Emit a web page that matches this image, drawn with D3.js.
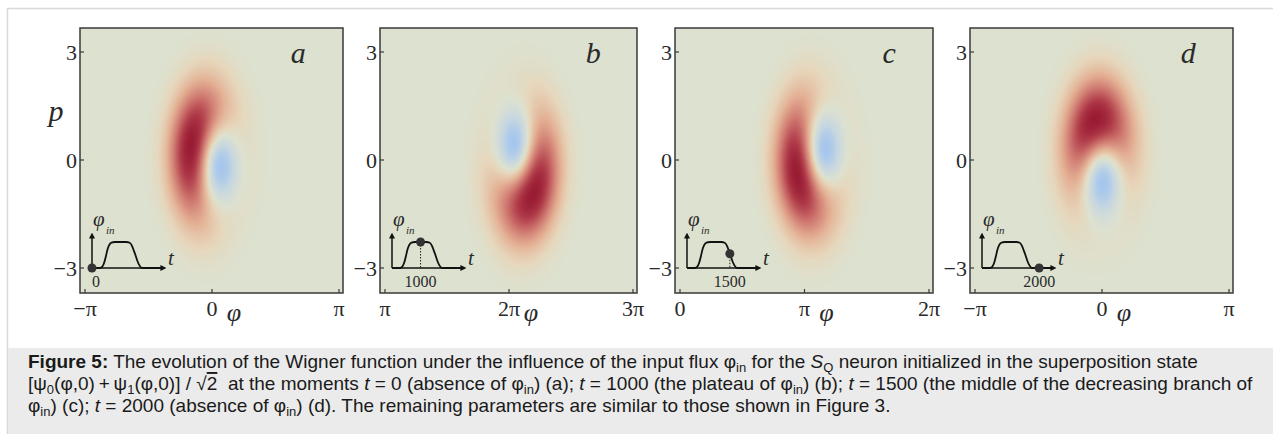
<!DOCTYPE html>
<html>
<head>
<meta charset="utf-8">
<script src="https://cdnjs.cloudflare.com/ajax/libs/d3/7.8.5/d3.min.js"></script>
<style>
body{margin:0;background:#fff}
svg text{font-family:"Liberation Serif","Times New Roman",serif;fill:#2a2a2a}
svg text.cap{font-family:"Liberation Sans",Arial,Helvetica,sans-serif;font-size:19px;fill:#1a1a1a;white-space:pre}
</style>
</head>
<body>
<svg width="1273" height="434"></svg>
<script>
var PI = Math.PI

var panelLetters = ["a","b","c","d"]
var xTickValues = [[-PI,0,PI],[PI,2*PI,3*PI],[0,PI,2*PI],[-PI,0,PI]]
var xTickLabels = [["−π","0","π"],["π","2π","3π"],["0","π","2π"],["−π","0","π"]]
var pTickValues = [3,0,-3]
var pTickLabels = ["3","0","−3"]

// centre of each Wigner blob (phi, p) and direction of its red lobe (deg)
var blobPhi = [-0.05, 2*PI+0.3, PI+0.27, -0.05]
var blobP = [0.03, -0.05, 0.05, 0.0]
var redLobeAngle = [160, -52, 204, 104]
var blobWidthPhi = 0.62
var blobWidthP = 1.4

// inset: the input flux pulse phi_in(t)
var pulseT = [0, 250, 350, 420, 480, 540, 600, 680, 800, 1200, 1320, 1400, 1460, 1520, 1580, 1650, 1750, 2450]
var pulseV = [0, 0, 0.04, 0.18, 0.42, 0.7, 0.88, 0.98, 1, 1, 0.97, 0.85, 0.68, 0.5, 0.3, 0.12, 0, 0]
var insetTimes = [0, 1000, 1500, 2000]
var insetTimeLabels = ["0", "1000", "1500", "2000"]
var insetDotV = [0, 1, 0.55, 0]

var colorStops = [-0.4, -0.2, 0, 0.1, 0.3, 0.55, 0.8, 1]
var colorValues = ["#a2c4ee", "#c4d6e2", "#dde1d0", "#e6d7bc", "#e4b195", "#cf7870", "#b03c4a", "#981a33"]

var frames = [{left:80,width:263},{left:380,width:257},{left:675,width:258},{left:970,width:263}]
var frameTop = 28, frameBottom = 293

var svg = d3.select("svg")
var color = d3.scaleLinear().domain(colorStops).range(colorValues).clamp(true)

var wigner = function(k, phi, p)
{
    var x = (phi - blobPhi[k]) / blobWidthPhi
    var y = (p - blobP[k]) / blobWidthP
    var a = redLobeAngle[k] * PI / 180
    var r2 = x*x + y*y
    return Math.exp(-r2) * (r2 + Math.SQRT2 * (x*Math.cos(a) + y*Math.sin(a))) / 0.9353
}

// figure border and caption box
svg.append("line").attr("x1",7).attr("x2",1273).attr("y1",8.5).attr("y2",8.5)
   .attr("stroke","#d9d9d9").attr("stroke-width",1.5)
svg.append("line").attr("x1",7.5).attr("x2",7.5).attr("y1",8).attr("y2",434)
   .attr("stroke","#d9d9d9").attr("stroke-width",1.5)
svg.append("rect").attr("x",8).attr("y",348).attr("width",1265).attr("height",86).attr("fill","#ebebeb")

var defs = svg.append("defs")
defs.append("marker").attr("id","arrow").attr("viewBox","0 0 10 10")
    .attr("refX",1).attr("refY",5).attr("markerWidth",6).attr("markerHeight",6)
    .attr("orient","auto").attr("markerUnits","userSpaceOnUse")
    .append("path").attr("d","M0,0 L10,5 L0,10 z").attr("fill","#111")

var drawPanel = function(k)
{
    var f = frames[k]
    var right = f.left + f.width
    var xScale = d3.scaleLinear().domain([xTickValues[k][0], xTickValues[k][2]])
                   .range([f.left + 5, right - 4])
    var yScale = d3.scaleLinear().domain([3, -3]).range([52, 268])

    var g = svg.append("g").attr("class","panel")

    defs.append("clipPath").attr("id","clip"+k)
        .append("rect").attr("x",f.left).attr("y",frameTop)
        .attr("width",f.width).attr("height",frameBottom-frameTop)

    // Wigner function as filled contour bands
    var step = 2
    var nx = Math.ceil(f.width/step) + 2
    var ny = Math.ceil((frameBottom-frameTop)/step) + 2
    var values = new Array(nx*ny)
    for (var j = 0; j < ny; j++)
        for (var i = 0; i < nx; i++)
            values[j*nx+i] = wigner(k, xScale.invert(f.left + i*step), yScale.invert(frameTop + j*step))
    var thresholds = d3.range(-0.42, 1.0, 0.012)
    var bands = d3.contours().size([nx,ny]).thresholds(thresholds)(values)
    var gx = d3.scaleLinear().domain([0.5, nx-0.5]).range([f.left, f.left + (nx-1)*step])
    var gy = d3.scaleLinear().domain([0.5, ny-0.5]).range([frameTop, frameTop + (ny-1)*step])
    var path = d3.geoPath(d3.geoTransform({point:function(x,y){this.stream.point(gx(x), gy(y))}}))

    var heat = g.append("g").attr("clip-path","url(#clip"+k+")")
    heat.append("rect").attr("x",f.left).attr("y",frameTop)
        .attr("width",f.width).attr("height",frameBottom-frameTop)
        .attr("fill",color(thresholds[0]))
    heat.selectAll("path").data(bands).enter().append("path")
        .attr("d",path).attr("fill",function(d){return color(d.value)})

    // frame and ticks
    g.append("rect").attr("x",f.left).attr("y",frameTop)
     .attr("width",f.width).attr("height",frameBottom-frameTop)
     .attr("fill","none").attr("stroke","#3a3a3a").attr("stroke-width",1.5)
    g.selectAll(".xt").data(xTickValues[k]).enter().append("line")
     .attr("x1",function(d){return xScale(d)}).attr("x2",function(d){return xScale(d)})
     .attr("y1",frameBottom).attr("y2",frameBottom-4).attr("stroke","#3a3a3a").attr("stroke-width",1.2)
    g.selectAll(".yt").data(pTickValues).enter().append("line")
     .attr("x1",f.left).attr("x2",f.left+4)
     .attr("y1",function(d){return yScale(d)}).attr("y2",function(d){return yScale(d)})
     .attr("stroke","#3a3a3a").attr("stroke-width",1.2)

    g.selectAll(".xl").data(xTickValues[k]).enter().append("text")
     .attr("x",function(d){return xScale(d)}).attr("y",316)
     .attr("text-anchor","middle").attr("font-size",22)
     .text(function(d,i){return xTickLabels[k][i]})
    g.selectAll(".yl").data(pTickValues).enter().append("text")
     .attr("x",f.left-3).attr("y",function(d){return yScale(d)+8})
     .attr("text-anchor","end").attr("font-size",22)
     .text(function(d,i){return pTickLabels[i]})

    g.append("text").attr("x",xScale(xTickValues[k][1])+22).attr("y",321)
     .attr("text-anchor","middle").attr("font-size",26).attr("font-style","italic").text("φ")
    if (k === 0)
        g.append("text").attr("x",56).attr("y",121).attr("text-anchor","middle")
         .attr("font-size",30).attr("font-style","italic").text("p")

    g.append("text").attr("x",f.left + 0.83*f.width).attr("y",63)
     .attr("text-anchor","middle").attr("font-size",30).attr("font-style","italic")
     .text(panelLetters[k])

    // inset with the input flux pulse
    var x0 = f.left + 12
    var baseY = yScale(-3)
    var tScale = d3.scaleLinear().domain([0, 2450]).range([x0, x0+70])
    var vScale = d3.scaleLinear().domain([0, 1]).range([baseY, baseY-26])
    var inset = g.append("g")
    inset.append("line").attr("x1",x0).attr("y1",baseY).attr("x2",x0).attr("y2",baseY-30)
         .attr("stroke","#111").attr("stroke-width",1.5).attr("marker-end","url(#arrow)")
    inset.append("line").attr("x1",x0).attr("y1",baseY).attr("x2",tScale(2450)-1).attr("y2",baseY)
         .attr("stroke","#111").attr("stroke-width",1.5).attr("marker-end","url(#arrow)")
    var pulseLine = d3.line()
        .x(function(d,i){return tScale(pulseT[i])})
        .y(function(d){return vScale(d)})
        .curve(d3.curveMonotoneX)
    inset.append("path").attr("d",pulseLine(pulseV)).attr("fill","none")
         .attr("stroke","#111").attr("stroke-width",1.8)
    if (insetDotV[k] > 0.05)
        inset.append("line").attr("x1",tScale(insetTimes[k])).attr("x2",tScale(insetTimes[k]))
             .attr("y1",vScale(insetDotV[k])).attr("y2",baseY)
             .attr("stroke","#222").attr("stroke-width",1).attr("stroke-dasharray","1.5,1.5")
    inset.append("circle").attr("cx",tScale(insetTimes[k])).attr("cy",vScale(insetDotV[k]))
         .attr("r",4.5).attr("fill","#333")
    inset.append("text").attr("x",x0+1).attr("y",baseY-42).attr("font-size",21)
         .attr("font-style","italic").text("φ")
    inset.append("text").attr("x",x0+14).attr("y",baseY-34).attr("font-size",11)
         .attr("font-style","italic").text("in")
    inset.append("text").attr("x",x0+76).attr("y",baseY-3).attr("font-size",21)
         .attr("font-style","italic").text("t")
    inset.append("text").attr("x",tScale(insetTimes[k])).attr("y",baseY+19)
         .attr("text-anchor", insetTimes[k] === 0 ? "start" : "middle")
         .attr("font-size",16).text(insetTimeLabels[k])
}

for (var k = 0; k < 4; k++) drawPanel(k)

// caption
var captionLines = [
  [["Figure 5:","b"],[" The evolution of the Wigner function under the influence of the input flux φ","n"],["in","sub"],[" for the ","n"],["S","i"],["Q","sub"],[" neuron initialized in the superposition state","n"]],
  [["[ψ","n"],["0","sub"],["(φ,0)\u2009+\u2009ψ","n"],["1","sub"],["(φ,0)] / √","n"],["2","ovl"],["  at the moments ","n"],["t","i"],[" = 0 (absence of φ","n"],["in","sub"],[") (a); ","n"],["t","i"],[" = 1000 (the plateau of φ","n"],["in","sub"],[") (b); ","n"],["t","i"],[" = 1500 (the middle of the decreasing branch of","n"]],
  [["φ","n"],["in","sub"],[") (c); ","n"],["t","i"],[" = 2000 (absence of φ","n"],["in","sub"],[") (d). The remaining parameters are similar to those shown in Figure 3.","n"]]
]
var captionY = [368, 390, 412]

captionLines.forEach(function(line, li)
{
    var t = svg.append("text").attr("class","cap").attr("x",28).attr("y",captionY[li])
    var shifted = false
    line.forEach(function(seg)
    {
        var s = t.append("tspan").text(seg[0])
        var dy = 0
        if (seg[1] === "sub") { if (!shifted) dy = 4; shifted = true; s.attr("font-size",13) }
        else { if (shifted) dy = -4; shifted = false }
        if (dy) s.attr("dy",dy)
        if (seg[1] === "b") s.attr("font-weight","bold")
        if (seg[1] === "i") s.attr("font-style","italic")
        if (seg[1] === "ovl") s.style("text-decoration","overline")
    })
})
</script>
</body>
</html>
